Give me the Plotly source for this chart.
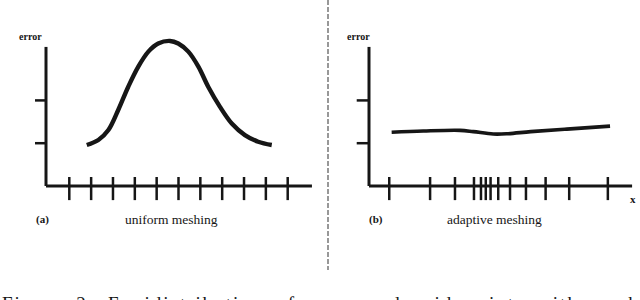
import plotly.graph_objects as go

# ---------------- data ----------------
# uniform meshing (panel a): mesh node positions and error curve
uniform_ticks = [1, 2, 3, 4, 5, 6, 7, 8, 9, 10, 11]
uniform_x = [1.80, 2.33, 2.79, 3.24, 3.70, 4.16, 4.62, 5.07, 5.61, 5.99, 6.45,
             6.91, 7.36, 7.90, 8.44, 9.04, 9.65, 10.27]
uniform_err = [0.958, 1.075, 1.308, 1.776, 2.32, 2.79, 3.14, 3.33, 3.39, 3.33,
               3.14, 2.79, 2.32, 1.85, 1.46, 1.19, 1.035, 0.958]

# adaptive meshing (panel b)
adaptive_ticks = [0.86, 2.73, 3.87, 4.74, 5.06, 5.28, 5.50, 5.85, 6.39, 7.12,
                  8.02, 9.10, 10.87]
adaptive_x = [0.97, 2.42, 4.10, 4.71, 5.62, 6.24, 7.34, 8.99, 10.97]
adaptive_err = [1.255, 1.285, 1.30, 1.27, 1.215, 1.22, 1.27, 1.33, 1.40]

y_ticks = [1, 2]
axis_top = 3.25
labels = {"ylab": "error", "a": "(a)", "b": "(b)", "xlab": "x",
          "ta": "uniform meshing", "tb": "adaptive meshing"}
caption = "Figure 2: Equidistribution of error and grid points with mesh points equally distributed"

INK = "#161616"
W, H = 640, 300
SERIF = "'Liberation Serif', 'Times New Roman', Times, 'DejaVu Serif', serif"


def px(x):
    return x / W


def py(y):
    return 1 - y / H


fig = go.Figure()


def add_panel(xa, ya, ticks, cx, cy, x_axis_left, x_axis_right, ytick_left, curve_w):
    fig.add_trace(go.Scatter(x=[x_axis_left, x_axis_left], y=[0, axis_top], mode="lines",
                             line=dict(color=INK, width=3), xaxis=xa, yaxis=ya,
                             hoverinfo="skip", showlegend=False))
    fig.add_trace(go.Scatter(x=[x_axis_left, x_axis_right], y=[0, 0], mode="lines",
                             line=dict(color=INK, width=3), xaxis=xa, yaxis=ya,
                             hoverinfo="skip", showlegend=False))
    tx, ty = [], []
    for t in ticks:
        tx += [t, t, None]
        ty += [0.21, -0.33, None]
    fig.add_trace(go.Scatter(x=tx, y=ty, mode="lines", line=dict(color=INK, width=2.5),
                             xaxis=xa, yaxis=ya, hoverinfo="skip", showlegend=False))
    yx, yy = [], []
    for t in y_ticks:
        yx += [ytick_left, x_axis_left, None]
        yy += [t, t, None]
    fig.add_trace(go.Scatter(x=yx, y=yy, mode="lines", line=dict(color=INK, width=2.5),
                             xaxis=xa, yaxis=ya, hoverinfo="skip", showlegend=False))
    fig.add_trace(go.Scatter(x=cx, y=cy, mode="lines", line=dict(color=INK, width=curve_w, shape="spline"),
                             xaxis=xa, yaxis=ya, hoverinfo="skip", showlegend=False))


add_panel("x", "y", uniform_ticks, uniform_x, uniform_err, -0.067, 12.11, -0.57, 4.4)
add_panel("x2", "y2", adaptive_ticks, adaptive_x, adaptive_err, -0.067, 11.98, -0.63, 3.6)

ann = []


def text(x, y, s, size, bold=False, xanchor="center"):
    ann.append(dict(x=px(x), y=py(y), xref="paper", yref="paper", text=("<b>%s</b>" % s) if bold else s,
                    showarrow=False, xanchor=xanchor, yanchor="middle",
                    font=dict(family=SERIF, size=size, color=INK)))


text(30, 37, labels["ylab"], 10, True)
text(358, 37, labels["ylab"], 10, True)
text(42, 219, labels["a"], 11, True)
text(376, 219, labels["b"], 11, True)
text(171, 219, labels["ta"], 13.5)
text(494, 219, labels["tb"], 13.5)
text(633, 199, labels["xlab"], 11, True)
ann.append(dict(x=0, y=py(291), xref="paper", yref="paper",
                text='<span style="letter-spacing:2px;word-spacing:6px">%s</span>' % caption,
                showarrow=False, xanchor="left", yanchor="top",
                font=dict(family=SERIF, size=19, color=INK)))

axis_common = dict(visible=False, fixedrange=True)
fig.update_layout(
    width=W, height=H, margin=dict(l=0, r=0, t=0, b=0),
    paper_bgcolor="white", plot_bgcolor="rgba(0,0,0,0)",
    font=dict(family=SERIF),
    xaxis=dict(domain=[0, 0.5], range=[-2.173, 12.479], anchor="y", **axis_common),
    yaxis=dict(domain=[0.2, 0.93333], range=[-1.262, 3.879], anchor="x", **axis_common),
    xaxis2=dict(domain=[0.515625, 1], range=[-1.853, 12.342], anchor="y2", **axis_common),
    yaxis2=dict(domain=[0.2, 0.93333], range=[-1.262, 3.879], anchor="x2", **axis_common),
    annotations=ann,
    shapes=[dict(type="line", xref="paper", yref="paper", x0=px(328), x1=px(328), y0=py(0), y1=py(270),
                 line=dict(color="#777", width=1.5, dash="5px,2px"))],
)

fig.write_html("out.html", config={"displayModeBar": False},
               post_script="document.body.style.margin='0';document.body.style.overflow='hidden';")
